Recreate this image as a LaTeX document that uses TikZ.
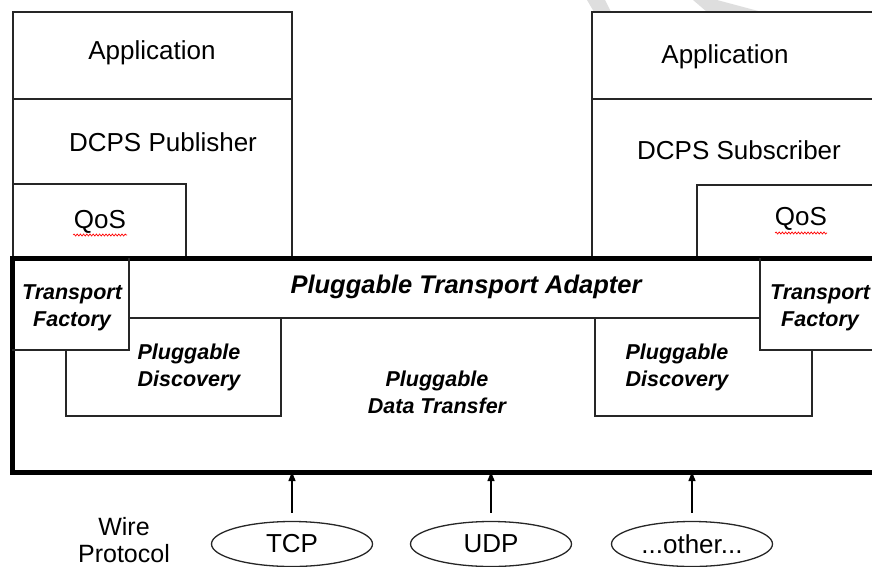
\documentclass[tikz,border=0pt]{standalone}
\usepackage{fontspec}
\setmainfont{Liberation Sans}
\usetikzlibrary{arrows.meta,shapes.geometric,decorations.pathmorphing}

\begin{document}
\begin{tikzpicture}[x=1pt,y=-1pt,
  thinline/.style={line width=1.3pt, draw=black!85},
  heavy/.style={line width=5pt, draw=black},
  lbl/.style={font=\fontsize{26}{30}\selectfont, inner sep=0},
  bilbl/.style={font=\fontsize{21.5}{27}\selectfont\bfseries\itshape, align=center, inner sep=0},
  titlelbl/.style={font=\fontsize{25.5}{30}\selectfont\bfseries\itshape, inner sep=0},
  proto/.style={ellipse, draw=black!85, line width=1.3pt, minimum width=161pt,
    minimum height=45pt, inner sep=0, font=\fontsize{26}{30}\selectfont},
  feed/.style={line width=1.3pt, -{Triangle[width=7pt,length=9pt]}, shorten <=8pt},
  squiggle/.style={draw=red, line width=0.7pt,
    decorate, decoration={snake, amplitude=1pt, segment length=3.2pt}}
]
\useasboundingbox (0,0) rectangle (872,567);

% faint watermark strokes behind the right stack
\fill[black!13] (587,0) -- (605,0) -- (611,12) -- (594,12) -- cycle;
\fill[black!13] (693,0) -- (717,0) -- (762,12) -- (707,12) -- cycle;

% publisher stack
\fill[white] (13,12) rectangle (292,258);
\draw[thinline] (13,258) -- (13,12) -- (292,12) -- (292,258);
\draw[thinline] (13,99) -- (292,99);
\draw[thinline] (13,184) -- (186,184) -- (186,258);
\node[lbl] (appL) at (152,53) {Application};
\node[lbl] (dcpsL) at (163,142) {DCPS Publisher};
\node[lbl] (qosL) at (100,222) {QoS};
\draw[squiggle] (73,235) -- (127,235);

% subscriber stack
\fill[white] (592,12) rectangle (880,258);
\draw[thinline] (592,258) -- (592,12) -- (880,12);
\draw[thinline] (592,99) -- (880,99);
\draw[thinline] (697,258) -- (697,185) -- (880,185);
\node[lbl] (appR) at (725,57) {Application};
\node[lbl] (dcpsR) at (739,150) {DCPS Subscriber};
\node[lbl] (qosR) at (801,219) {QoS};
\draw[squiggle] (775,233) -- (827,233);

% transport adapter frame
\node[heavy, rectangle, anchor=north west, minimum width=880pt, minimum height=214pt,
  inner sep=0, outer sep=0] (pta) at (12,258) {};

% inner partitions
\draw[thinline] (12,350) -- (129,350) -- (129,258);
\draw[thinline] (129,318) -- (760,318);
\draw[thinline] (760,258) -- (760,350) -- (880,350);
\draw[thinline] (66,350) -- (66,416) -- (281,416) -- (281,318);
\draw[thinline] (595,318) -- (595,416) -- (812,416) -- (812,350);

\node[titlelbl] (ptaTitle) at (466,287) {Pluggable Transport Adapter};
\node[bilbl] (tfL) at (72,308) {Transport\\Factory};
\node[bilbl] (tfR) at (820,308) {Transport\\Factory};
\node[bilbl] (pdL) at (189,367) {Pluggable\\Discovery};
\node[bilbl] (pdR) at (677,367) {Pluggable\\Discovery};
\node[bilbl] (pdt) at (437,392) {Pluggable\\Data Transfer};

% wire protocols
\node[lbl, align=center, font=\fontsize{25}{27}\selectfont] (wire) at (124,540) {Wire\\Protocol};
\node[proto] (tcp) at (292,544) {TCP};
\node[proto] (udp) at (491,544) {UDP};
\node[proto] (other) at (692,544) {...other...};

\draw[feed] (tcp.north) -- (tcp.north |- pta.south);
\draw[feed] (udp.north) -- (udp.north |- pta.south);
\draw[feed] (other.north) -- (other.north |- pta.south);
\end{tikzpicture}
\end{document}
